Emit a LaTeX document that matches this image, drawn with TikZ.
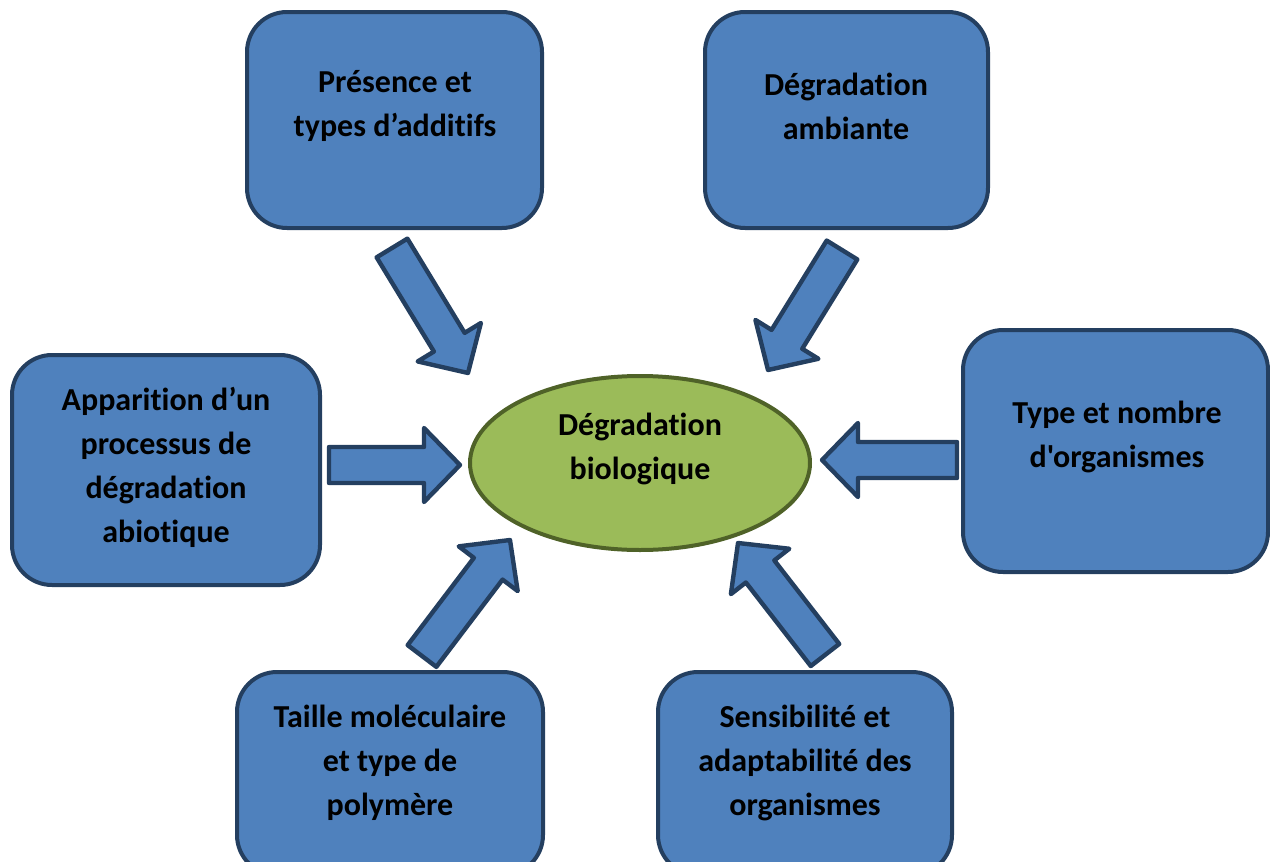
\documentclass[tikz,border=0pt]{standalone}
\usepackage{fontspec}
\setmainfont{Carlito}[Ligatures={NoCommon,TeXOff}]
\usetikzlibrary{calc,shapes.geometric}
\definecolor{boxfill}{HTML}{4F81BD}
\definecolor{boxline}{HTML}{243F60}
\definecolor{ellfill}{HTML}{9BBB59}
\definecolor{ellline}{HTML}{4F6228}
\tikzset{
  infobox/.style={draw=boxline, fill=boxfill, line width=2pt, rounded corners=20pt, inner sep=0pt},
  lbl/.style={align=center, font=\fontsize{16}{22}\selectfont\bfseries, inner sep=0pt},
  arrowsty/.style={draw=boxline, fill=boxfill, line width=2.2pt, line join=round},
}
% block arrow from tail #1 to tip #2
\newcommand\blockarr[2]{%
  \draw[arrowsty] let \p1=($(#2)-(#1)$), \n1={atan2(\y1,\x1)}, \n2={veclen(\x1,\y1)} in
    ($(#1)+(\n1+90:9pt)$) -- ($(#1)+(\n1:\n2-18pt)+(\n1+90:9pt)$) --
    ($(#1)+(\n1:\n2-18pt)+(\n1+90:18.5pt)$) -- (#2) --
    ($(#1)+(\n1:\n2-18pt)+(\n1-90:18.5pt)$) --
    ($(#1)+(\n1:\n2-18pt)+(\n1-90:9pt)$) -- ($(#1)+(\n1-90:9pt)$) -- cycle;}
\begin{document}
\begin{tikzpicture}[x=0.5pt,y=-0.5pt]
\useasboundingbox (0,0) rectangle (1270,862);
% boxes
\node[infobox, minimum width=147.5pt, minimum height=108pt] (b1) at (394.5,120) {};
\node[lbl] (t1) at (395,106) {Présence et\\types d’additifs};
\node[infobox, minimum width=141.5pt, minimum height=108pt] (b2) at (846.5,120) {};
\node[lbl] (t2) at (846,106) {Dégradation\\ambiante};
\node[infobox, minimum width=154pt, minimum height=115pt] (b3) at (166,470) {};
\node[lbl] (t3) at (166,467) {Apparition d’un\\processus de\\dégradation\\abiotique};
\node[infobox, minimum width=152.5pt, minimum height=121pt] (b4) at (1115.5,451) {};
\node[lbl] (t4) at (1117,437) {Type et nombre\\d'organismes};
\node[infobox, minimum width=153pt, minimum height=101.5pt] (b5) at (390,773.5) {};
\node[lbl] (t5) at (390,763) {Taille moléculaire\\et type de\\polymère};
\node[infobox, minimum width=147pt, minimum height=101.5pt] (b6) at (805,773.5) {};
\node[lbl] (t6) at (805,763) {Sensibilité et\\adaptabilité des\\organismes};
% ellipse
\node[ellipse, draw=ellline, fill=ellfill, line width=2pt, minimum width=170pt, minimum height=87pt, inner sep=0pt] (e) at (640,463) {};
\node[lbl] (te) at (640,449) {Dégradation\\biologique};
% arrow coordinates
\coordinate (a1s) at (392,248); \coordinate (a1e) at (468,373);
\coordinate (a2s) at (842,250); \coordinate (a2e) at (768,370);
\coordinate (a3s) at (329,465); \coordinate (a3e) at (460,465);
\coordinate (a4s) at (957,460); \coordinate (a4e) at (822,460);
\coordinate (a5s) at (422,656); \coordinate (a5e) at (510,540);
\coordinate (a6s) at (825,655); \coordinate (a6e) at (738,543);
\blockarr{a1s}{a1e}
\blockarr{a2s}{a2e}
\blockarr{a3s}{a3e}
\blockarr{a4s}{a4e}
\blockarr{a5s}{a5e}
\blockarr{a6s}{a6e}
\end{tikzpicture}
\end{document}
